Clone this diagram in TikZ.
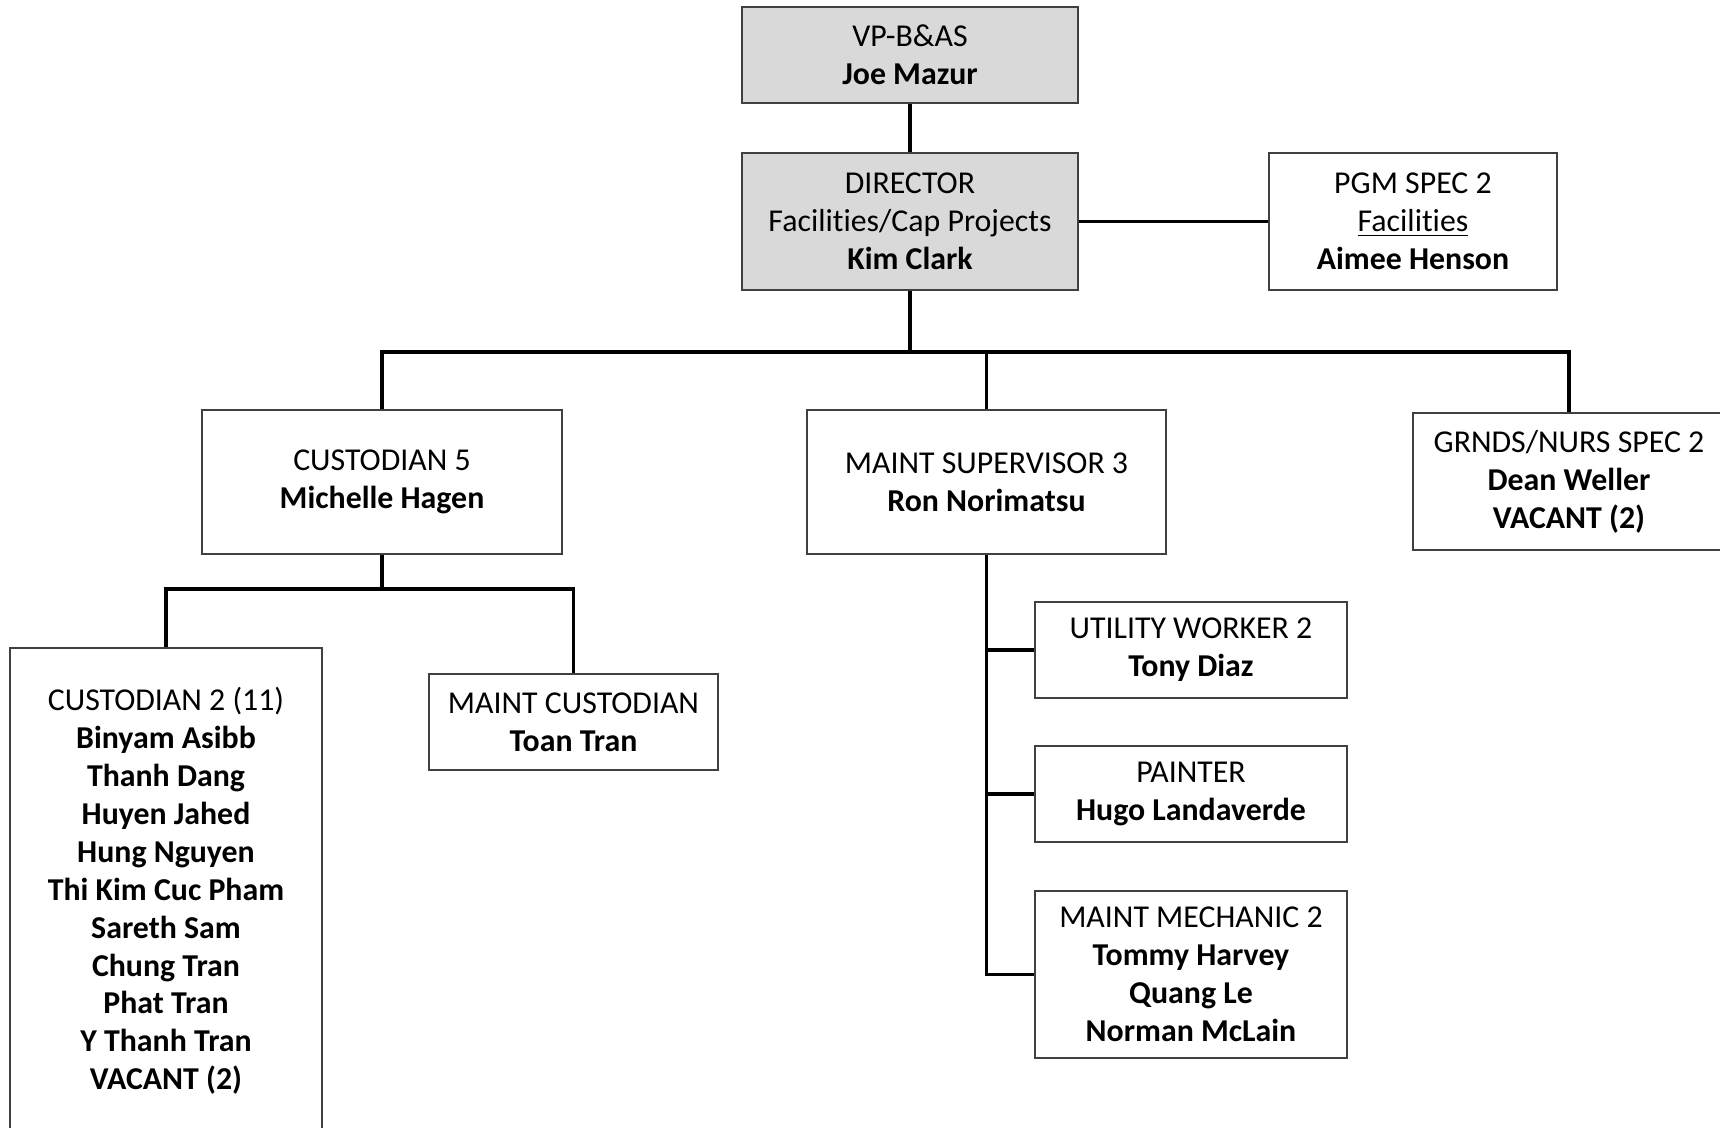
\documentclass[tikz,border=0pt]{standalone}
\usepackage{fontspec}
\setmainfont{Carlito}[Ligatures=NoCommon]
\definecolor{boxgray}{RGB}{217,217,217}
\newcommand{\upx}{0.38pt}

\begin{document}
\begin{tikzpicture}[x=\upx,y=-\upx,
  every node/.style={draw=black!75,line width=0.6pt,align=center,inner sep=0pt,
    font=\fontsize{12.1}{14.4}\selectfont},
  head/.style={fill=boxgray},
  link/.style={line width=1.4pt}]
\useasboundingbox (0,0) rectangle (1720,1128);

\node[head,minimum width=336*\upx,minimum height=96*\upx] (vp) at (910,55) {VP-B\&AS\\\textbf{Joe Mazur}};
\node[head,minimum width=336*\upx,minimum height=137*\upx] (dir) at (910,221.5) {DIRECTOR\\Facilities/Cap Projects\\\textbf{Kim Clark}};
\node[minimum width=288*\upx,minimum height=137*\upx] (pgm) at (1413,221.5) {PGM SPEC 2\\\underline{Facilities}\\\textbf{Aimee Henson}};

\node[minimum width=360*\upx,minimum height=144*\upx] (cust5) at (382,482) {CUSTODIAN 5\\\textbf{Michelle Hagen}};
\node[minimum width=359*\upx,minimum height=144*\upx] (msup) at (986.5,482) {MAINT SUPERVISOR 3\\\textbf{Ron Norimatsu}};
\node[minimum width=312*\upx,minimum height=137*\upx] (grnds) at (1569,481.5) {GRNDS/NURS SPEC 2\\\textbf{Dean Weller}\\\textbf{VACANT (2)}};

\node[minimum width=312*\upx,minimum height=486*\upx] (cust2) at (166,891) {CUSTODIAN 2 (11)\\\textbf{Binyam Asibb}\\\textbf{Thanh Dang}\\\textbf{Huyen Jahed}\\\textbf{Hung Nguyen}\\\textbf{Thi Kim Cuc Pham}\\\textbf{Sareth Sam}\\\textbf{Chung Tran}\\\textbf{Phat Tran}\\\textbf{Y Thanh Tran}\\\textbf{VACANT (2)}};
\node[minimum width=289*\upx,minimum height=96*\upx] (mcust) at (573.5,722) {MAINT CUSTODIAN\\\textbf{Toan Tran}};

\node[minimum width=312*\upx,minimum height=96*\upx] (util) at (1191,650) {UTILITY WORKER 2\\\textbf{Tony Diaz}};
\node[minimum width=312*\upx,minimum height=96*\upx] (paint) at (1191,794) {PAINTER\\\textbf{Hugo Landaverde}};
\node[minimum width=312*\upx,minimum height=167*\upx] (mech) at (1191,974.5) {MAINT MECHANIC 2\\\textbf{Tommy Harvey}\\\textbf{Quang Le}\\\textbf{Norman McLain}};

\coordinate (bus1) at (910,352);
\coordinate (bus2) at (382,589);

\draw[link] (vp) edge (dir);
\draw[link] (dir) edge (pgm);
\draw[link] (dir.south) -- (bus1);
\draw[link] (bus1) -| (cust5.north);
\draw[link] (bus1) -| (msup.north);
\draw[link] (bus1) -| (grnds.north);
\draw[link] (cust5.south) -- (bus2);
\draw[link] (bus2) -| (cust2.north);
\draw[link] (bus2) -| (mcust.north);
\draw[link] (msup.south) |- (util.west);
\draw[link] (msup.south) |- (paint.west);
\draw[link] (msup.south) |- (mech.west);
\end{tikzpicture}
\end{document}
